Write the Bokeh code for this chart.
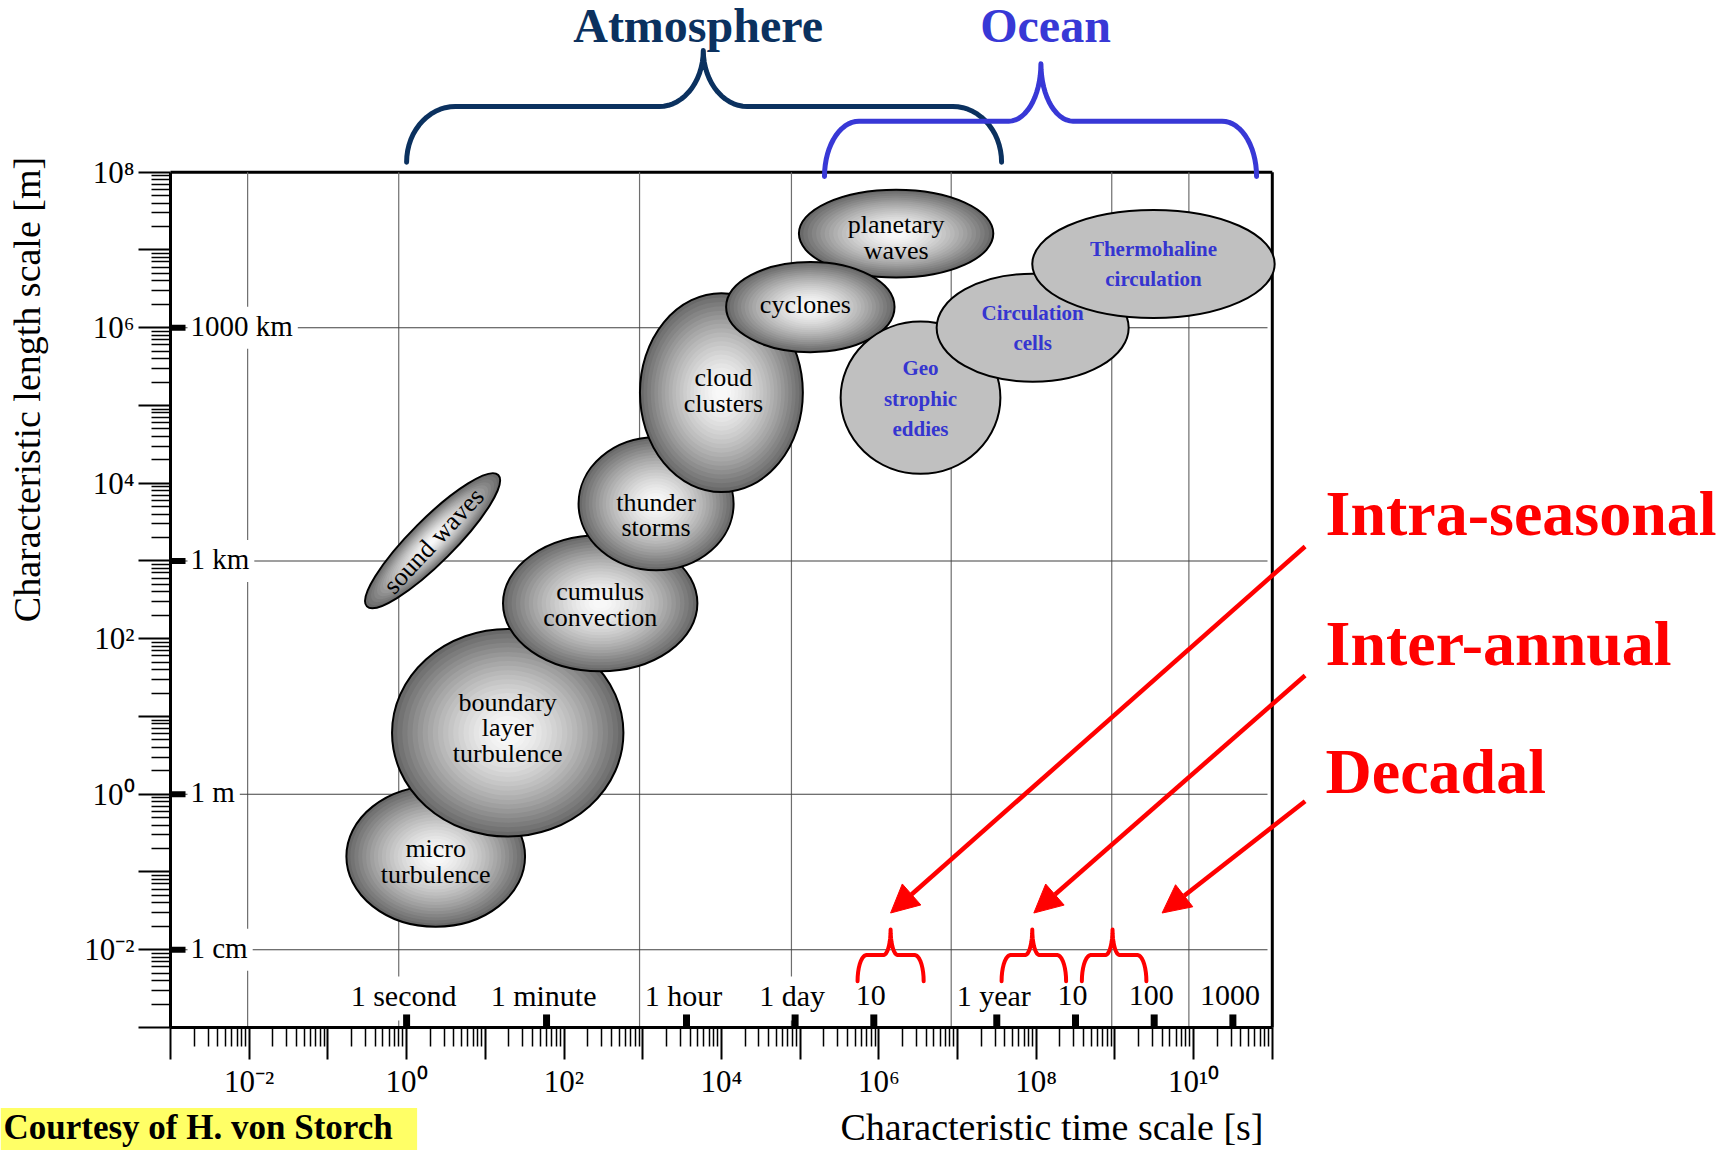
import numpy as np
from bokeh.plotting import figure
from bokeh.models import Range1d, FixedTicker, ColumnDataSource, Arrow, NormalHead
from bokeh.core.properties import value
from bokeh.embed import file_html
from bokeh.resources import INLINE

SERIF = "Liberation Serif"

# ---------------- data (log10 of time scale [s] and length scale [m]) ----------------
atm_names = ["sound waves", "micro\nturbulence", "boundary\nlayer\nturbulence",
             "cumulus\nconvection", "thunder\nstorms", "cloud\nclusters",
             "planetary\nwaves", "cyclones"]
atm_time = [0.33, 0.37, 1.285, 2.46, 3.17, 4.0, 6.22, 5.13]
atm_length = [3.26, -0.80, 0.79, 2.455, 3.735, 5.165, 7.21, 6.265]
atm_time_span = [2.36, 2.27, 2.94, 2.47, 1.97, 2.07, 2.47, 2.14]
atm_length_span = [0.56, 1.81, 2.67, 1.75, 1.71, 2.56, 1.13, 1.16]
atm_tilt_deg = [45, 0, 0, 0, 0, 0, 0, 0]

ocn_names = ["Geo\nstrophic\neddies", "Circulation\ncells", "Thermohaline\ncirculation"]
ocn_time = [6.53, 7.955, 9.49]
ocn_length = [5.10, 6.0, 6.82]
ocn_time_span = [2.03, 2.44, 3.08]
ocn_length_span = [1.96, 1.39, 1.39]

time_tick_labels = ["1 second", "1 minute", "1 hour", "1 day", "10", "1 year", "10", "100", "1000"]
time_tick_seconds = [1, 60, 3600, 86400, 864000, 3.156e7, 3.156e8, 3.156e9, 3.156e10]

length_tick_labels = ["1000 km", "1 km", "1 m", "1 cm"]
length_tick_meters = [1e6, 1e3, 1.0, 1e-2]

grid_time_log = [-2.02, -0.1, 2.96, 4.89, 6.92, 8.96, 9.94]

band_names = ["Intra-seasonal", "Inter-annual", "Decadal"]
band_left = [5.73, 7.56, 8.58]
band_tip = [6.15, 7.95, 8.97]
band_right = [6.57, 8.38, 9.40]
band_arrow_time = [6.15, 7.97, 9.60]

domain_names = ["Atmosphere", "Ocean"]
domain_left = [0.0, 5.31]
domain_tip = [3.77, 8.06]
domain_right = [7.56, 10.80]

# ---------------- layout helpers ----------------
W, H = 1728, 1150
X0, PXX = 170.0, 78.7     # canvas x of 10^-3 s, px per decade
Y0, PXY = 171.7, 77.75    # canvas y of 10^8 m, px per decade


def tx(px):
    return (px - X0) / PXX - 3


def ly(py):
    return 8 - (py - Y0) / PXY


SUP = str.maketrans("-0123456789", "⁻⁰¹²³⁴⁵⁶⁷⁸⁹")


def pow10(k):
    return "10" + str(k).translate(SUP)


CW = {'1': .5, '0': .5, ' ': .25, 'k': .5, 'm': .778, 'c': .444, 's': .389, 'e': .444, 'o': .5,
      'n': .5, 'd': .5, 'a': .444, 'y': .5, 'i': .278, 'u': .5, 't': .278, 'h': .5, 'r': .333}


def text_px(s, fs):
    return sum(CW.get(ch, .5) for ch in s) * fs


def brace(xl, xt, xr, ye, yb, yt, re, rt, n=14):
    xs, ys = [], []
    th = np.linspace(0, np.pi / 2, n)
    xs += list(xl + re - re * np.cos(th)); ys += list(ye + (yb - ye) * np.sin(th))
    xs += list(xt - rt + rt * np.sin(th)); ys += list(yt - (yt - yb) * np.cos(th))
    xs += list(xt + rt - rt * np.cos(th)); ys += list(yt - (yt - yb) * np.sin(th))
    xs += list(xr - re + re * np.sin(th)); ys += list(ye + (yb - ye) * np.cos(th))
    return xs, ys


p = figure(width=W, height=H, x_range=Range1d(tx(0), tx(W)), y_range=Range1d(ly(H), ly(0)),
           output_backend="svg", toolbar_location=None, title=None, min_border=0)
p.xgrid.visible = False
p.ygrid.visible = False
p.outline_line_color = None
p.background_fill_color = "white"
p.border_fill_color = "white"

x_minor = [k + np.log10(m) for k in range(-3, 11) for m in range(2, 10)]
y_minor = [k + np.log10(m) for k in range(-3, 8) for m in range(2, 10)]
p.xaxis.ticker = FixedTicker(ticks=list(range(-3, 12)), minor_ticks=x_minor)
p.yaxis.ticker = FixedTicker(ticks=list(range(-3, 9)), minor_ticks=y_minor)
p.xaxis.major_label_overrides = {k: (pow10(k) if k % 2 == 0 else "") for k in range(-3, 12)}
p.yaxis.major_label_overrides = {k: (pow10(k) if k % 2 == 0 else "") for k in range(-3, 9)}
p.xaxis.fixed_location = -3
p.yaxis.fixed_location = -3
p.xaxis.bounds = (-3, 11)
p.yaxis.bounds = (-3, 8)
for ax in (p.xaxis, p.yaxis):
    ax.axis_line_width = 3
    ax.axis_line_color = "black"
    ax.major_tick_out = 32
    ax.major_tick_in = 0
    ax.minor_tick_out = 19
    ax.minor_tick_in = 0
    ax.major_tick_line_width = 2
    ax.minor_tick_line_width = 1.5
    ax.major_tick_line_color = "black"
    ax.minor_tick_line_color = "black"
    ax.major_label_text_font = SERIF
    ax.major_label_text_font_size = "31px"
    ax.major_label_text_color = "black"
p.xaxis.major_label_standoff = 5
p.yaxis.major_label_standoff = 4

# ---------------- frame (top and right edges) ----------------
p.segment(x0=[-3, 11], y0=[8, -3], x1=[11, 11], y1=[8, 8], line_color="black", line_width=3)

# ---------------- grid lines ----------------
length_log = [float(np.log10(v)) for v in length_tick_meters]
time_log = [float(np.log10(v)) for v in time_tick_seconds]
p.segment(x0=grid_time_log, y0=[-3] * len(grid_time_log), x1=grid_time_log, y1=[8] * len(grid_time_log),
          line_color="#6e6e6e", line_width=1.2)
p.segment(x0=[-3] * 4, y0=length_log, x1=[tx(1267)] * 4, y1=length_log,
          line_color="#404040", line_width=1.1)

# ---------------- shaded atmospheric ellipses ----------------
def gray(v):
    v = int(round(v))
    return "#%02x%02x%02x" % (v, v, v)


N, EDGE, CENTER = 22, 100, 250
rows = dict(x=[], y=[], w=[], h=[], a=[], fc=[], fa=[], la=[])
for i in range(len(atm_names)):
    for k in range(N + 1):
        if k < N:
            s = 1 - 0.97 * k / N
            mid = s - 0.485 / N
            rows["fc"].append(gray(CENTER + (EDGE - CENTER) * mid ** 1.5))
            rows["fa"].append(1.0)
            rows["la"].append(0.0)
        else:
            s = 1.0
            rows["fc"].append("white")
            rows["fa"].append(0.0)
            rows["la"].append(1.0)
        rows["x"].append(atm_time[i])
        rows["y"].append(atm_length[i])
        rows["w"].append(atm_time_span[i] * s)
        rows["h"].append(atm_length_span[i] * s)
        rows["a"].append(np.deg2rad(atm_tilt_deg[i]))
p.ellipse(x="x", y="y", width="w", height="h", angle="a", fill_color="fc", fill_alpha="fa",
          line_color="black", line_alpha="la", line_width=2, source=ColumnDataSource(rows))

p.ellipse(x=ocn_time, y=ocn_length, width=ocn_time_span, height=ocn_length_span,
          fill_color="#c0c0c0", line_color="black", line_width=2)

p.text(x=atm_time, y=atm_length, text=atm_names,
       angle=[np.deg2rad(47), 0, 0, 0, 0, 0, 0, 0],
       x_offset=[1, 0, 0, 0, 0, 2, 0, -5], y_offset=[0, 5, -5, 1, 11, -2, 4, -3],
       text_font=value(SERIF), text_font_size="26px", text_color="black",
       text_align="center", text_baseline="middle", text_line_height=0.88)
p.text(x=ocn_time, y=ocn_length, text=ocn_names, y_offset=[1, 0, 0],
       text_font=value(SERIF), text_font_size="21px", text_font_style="bold",
       text_color="#3535d0", text_align="center", text_baseline="middle", text_line_height=1.26)

# ---------------- named ticks inside the frame ----------------
len_w = [text_px(s, 29) for s in length_tick_labels]
p.rect(x=[tx(187) + (w + 8) / 2 / PXX for w in len_w], y=length_log,
       width=[w + 8 for w in len_w], height=42, width_units="screen", height_units="screen",
       fill_color="white", line_color=None)
p.text(x=[tx(190)] * 4, y=length_log, text=length_tick_labels, y_offset=-2,
       text_font=value(SERIF), text_font_size="29px", text_color="black",
       text_align="left", text_baseline="middle")
p.segment(x0=[-3] * 4, y0=length_log, x1=[-3 + 15 / PXX] * 4, y1=length_log,
          line_color="black", line_width=6)

time_w = [text_px(s, 30) for s in time_tick_labels]
p.rect(x=time_log, y=[ly(998)] * len(time_log), width=[w + 10 for w in time_w], height=44,
       width_units="screen", height_units="screen", fill_color="white", line_color=None)
p.text(x=time_log, y=[ly(995)] * len(time_log), text=time_tick_labels, x_offset=-3,
       text_font=value(SERIF), text_font_size="30px", text_color="black",
       text_align="center", text_baseline="middle")
p.segment(x0=time_log, y0=[-3] * len(time_log), x1=time_log, y1=[-3 + 13 / PXY] * len(time_log),
          line_color="black", line_width=7)

# ---------------- red variability bands ----------------
bxs, bys = [], []
for i in range(len(band_names)):
    xs, ys = brace(band_left[i], band_tip[i], band_right[i], ly(980.7), ly(954.5), ly(929),
                   0.115, 0.09, n=10)
    bxs.append(xs); bys.append(ys)
p.multi_line(xs=bxs, ys=bys, line_color="#ff0000", line_width=4, line_cap="round", line_join="round")

label_centers = [513.0, 643.0, 771.0]
arrow_starts = [546.0, 675.0, 800.7]
p.text(x=[tx(1325)] * 3, y=[ly(c) for c in label_centers], text=band_names,
       text_font=value(SERIF), text_font_size="64px", text_font_style="bold",
       text_color="#ff0000", text_align="left", text_baseline="middle")
for i in range(len(band_names)):
    p.add_layout(Arrow(end=NormalHead(size=28, fill_color="#ff0000", line_color="#ff0000"),
                       start=None,
                       x_start=tx(1304.6), y_start=ly(arrow_starts[i]),
                       x_end=band_arrow_time[i], y_end=ly(912.5),
                       line_color="#ff0000", line_width=4.5))

# ---------------- Atmosphere / Ocean braces ----------------
dom_colors = ["#0b315f", "#3838d6"]
dom_levels = [(161.7, 106.0, 50.0, 0.62, 0.56), (176.0, 120.7, 63.3, 0.44, 0.41)]
dom_label_x = [697.6, 1045.0]
dxs, dys = [], []
for i in range(len(domain_names)):
    ye, yb, yt, re, rt = dom_levels[i]
    xs, ys = brace(domain_left[i], domain_tip[i], domain_right[i], ly(ye), ly(yb), ly(yt), re, rt, n=16)
    dxs.append(xs); dys.append(ys)
p.multi_line(xs=dxs, ys=dys, line_color=dom_colors, line_width=5, line_cap="round", line_join="round")
p.text(x=[tx(v) for v in dom_label_x], y=[ly(25.0)] * 2, text=domain_names,
       text_font=value(SERIF), text_font_size="48px", text_font_style="bold",
       text_color=dom_colors, text_align="center", text_baseline="middle")

# ---------------- axis titles and credit ----------------
p.text(x=[tx(1263)], y=[ly(1126)], text=["Characteristic time scale [s]"],
       text_font=value(SERIF), text_font_size="38px", text_color="black",
       text_align="right", text_baseline="middle")
p.text(x=[tx(26)], y=[ly(389.0)], text=["Characteristic length scale [m]"], angle=np.pi / 2,
       text_font=value(SERIF), text_font_size="38px", text_color="black",
       text_align="center", text_baseline="middle")
p.quad(left=[tx(0)], right=[tx(416.6)], top=[ly(1107.6)], bottom=[ly(H)],
       fill_color="#ffff66", line_color=None)
p.text(x=[tx(3)], y=[ly(1127)], text=["Courtesy of H. von Storch"],
       text_font=value(SERIF), text_font_size="35px", text_font_style="bold",
       text_color="black", text_align="left", text_baseline="middle")

open("out.html", "w").write(file_html(p, INLINE))
